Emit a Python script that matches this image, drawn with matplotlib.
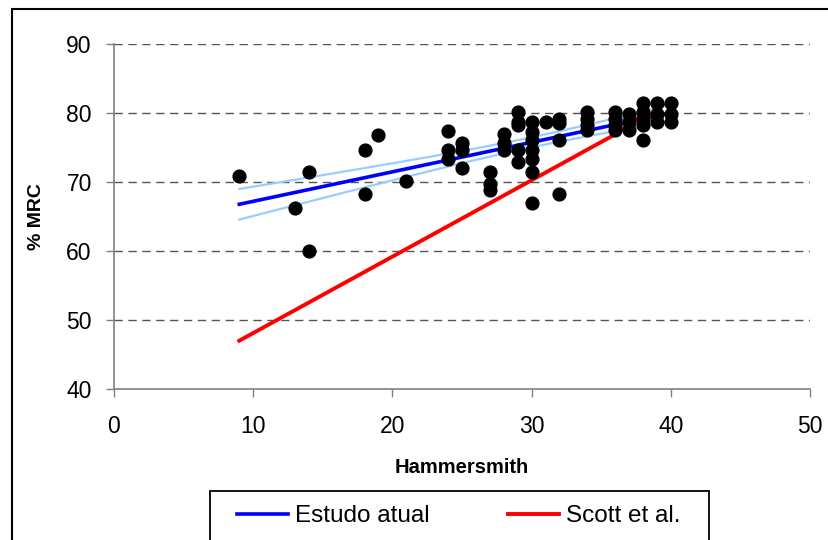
import numpy as np
import matplotlib
matplotlib.use("Agg")
import matplotlib.pyplot as plt
from matplotlib.patches import Rectangle

plt.rcParams['font.family'] = ['Liberation Sans', 'DejaVu Sans']

# Hammersmith score vs % MRC
hammersmith = [9, 13, 14, 14, 18, 18, 19, 21,
               24, 24, 24, 25, 25, 25, 27, 27, 27, 28, 28, 28,
               29, 29, 29, 29, 29,
               30, 30, 30, 30, 30, 30, 30, 31, 32, 32, 32, 32,
               34, 34, 34, 34, 36, 36, 36, 36, 37, 37, 37,
               38, 38, 38, 38, 38, 39, 39, 39, 40, 40, 40]
mrc = [70.9, 66.2, 71.5, 60.0, 74.7, 68.2, 76.8, 70.2,
       77.4, 74.7, 73.4, 75.6, 74.6, 72.1, 71.5, 69.7, 68.8, 76.9, 75.6, 74.7,
       80.2, 78.7, 78.3, 74.7, 72.9,
       78.7, 77.3, 76.1, 74.7, 73.4, 71.5, 66.9, 78.7, 79.2, 78.5, 76.1, 68.2,
       80.2, 79.2, 78.3, 77.5, 80.2, 79.2, 78.3, 77.5, 79.9, 78.7, 77.5,
       81.4, 80.2, 79.2, 78.3, 76.1, 81.4, 79.9, 78.7, 81.4, 79.9, 78.7]

# Scott et al. reference curve
scott_x = [9, 36, 36.8, 37.6, 38.4, 39.4]
scott_y = [47.0, 76.9, 78.0, 79.2, 79.5, 81.2]

x = np.array(hammersmith, dtype=float)
y = np.array(mrc)

# linear fit + confidence band for "Estudo atual"
slope, inter = np.polyfit(x, y, 1)
xs = np.linspace(9, 40, 100)
fit = inter + slope * xs
n = len(x)
resid = y - (inter + slope * x)
s = np.sqrt(np.sum(resid ** 2) / (n - 2))
se = s * np.sqrt(1.0 / n + (xs - x.mean()) ** 2 / np.sum((x - x.mean()) ** 2))
band = 1.8 * se

fig = plt.figure(figsize=(8.29, 5.4), dpi=100)
ax = fig.add_axes([114 / 829, 1 - 389 / 540, 696 / 829, 345 / 540])

ax.set_xlim(0, 50)
ax.set_ylim(40, 90)
ax.set_xticks(range(0, 51, 10))
ax.set_yticks(range(40, 91, 10))

for v in range(50, 91, 10):
    ax.axhline(v, color='#555555', lw=1, ls=(0, (6, 4)), zorder=0)

ax.plot(xs, fit + band, color='#99ccff', lw=1.6, zorder=2)
ax.plot(xs, fit - band, color='#99ccff', lw=1.6, zorder=2)
l1, = ax.plot(xs, fit, color='#0000ff', lw=2.6, zorder=3)
l2, = ax.plot(scott_x, scott_y, color='#ff0000', lw=2.8, zorder=3)
ax.scatter(x, y, s=85, color='black', zorder=4)

for side in ['top', 'right']:
    ax.spines[side].set_visible(False)
for side in ['left', 'bottom']:
    ax.spines[side].set_color('#808080')
    ax.spines[side].set_linewidth(1.2)
ax.tick_params(direction='out', length=6, width=1, color='#808080',
               labelsize=16.5)
ax.tick_params(axis='x', pad=13)
ax.tick_params(axis='y', pad=10)

ax.set_xlabel('Hammersmith', fontsize=14.5, fontweight='bold', labelpad=14)
ax.set_ylabel('% MRC', fontsize=14, fontweight='bold', labelpad=15)

leg = fig.legend([l1, l2], ['Estudo atual', 'Scott et al.'], ncol=2,
                 loc='center left', bbox_to_anchor=(237 / 829, 1 - 516 / 540),
                 fontsize=17.5, frameon=False,
                 handlelength=2.1, handletextpad=0.3, columnspacing=3.2,
                 borderpad=0, borderaxespad=0)

# legend frame (bottom runs off the image)
fig.patches.append(Rectangle((210 / 829, -0.1), 499 / 829, 0.1 + 1 - 491 / 540,
                             transform=fig.transFigure, fill=False,
                             edgecolor='black', lw=1.3))

# outer chart border (left and top visible)
fig.patches.append(Rectangle((12 / 829, -0.2), 1.2, 1 - 9 / 540 + 0.2,
                             transform=fig.transFigure, fill=False,
                             edgecolor='black', lw=1.5))

fig.savefig('out.png', dpi=100)
